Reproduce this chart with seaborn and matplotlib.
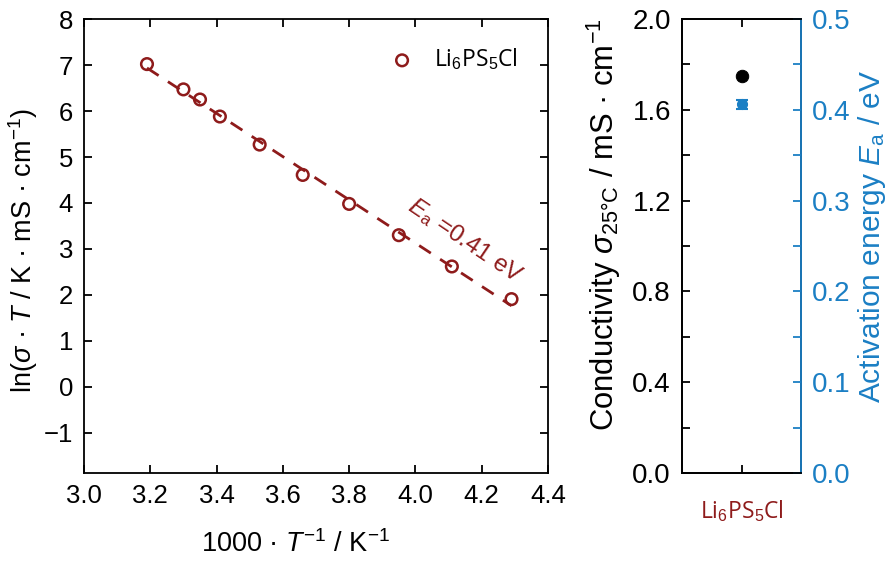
import numpy as np
import pandas as pd
import seaborn as sns
import matplotlib.pyplot as plt
from matplotlib.ticker import MultipleLocator

# Arrhenius data (1000/T vs ln(sigma*T))
inv_temp = [3.19, 3.30, 3.35, 3.41, 3.53, 3.66, 3.80, 3.95, 4.11, 4.29]
ln_sigma_t = [7.02, 6.47, 6.25, 5.88, 5.27, 4.61, 3.98, 3.30, 2.62, 1.91]

# room-temperature summary
samples = ['Li$_6$PS$_5$Cl']
conductivity = [1.75]
act_energy = [0.406]
act_energy_err = [0.005]

red = '#8E1B1B'
blue = '#1B7FC4'

sns.set_theme(style='ticks')
plt.rcParams['font.family'] = ['Liberation Sans', 'DejaVu Sans']
plt.rcParams['mathtext.fontset'] = 'custom'
plt.rcParams['mathtext.rm'] = 'Liberation Sans'
plt.rcParams['mathtext.it'] = 'Liberation Sans:italic'
plt.rcParams['mathtext.bf'] = 'Liberation Sans:bold'
plt.rcParams['xtick.direction'] = 'in'
plt.rcParams['ytick.direction'] = 'in'
plt.rcParams['axes.linewidth'] = 1.3
for key in ['text.color', 'axes.labelcolor', 'axes.edgecolor', 'xtick.color', 'ytick.color']:
    plt.rcParams[key] = 'black'

fig = plt.figure(figsize=(8.9, 5.61), dpi=100)

# ---- left: Arrhenius plot ----
ax = fig.add_axes([0.0944, 0.1569, 0.5213, 0.8092])
df = pd.DataFrame({'x': inv_temp, 'y': ln_sigma_t})
sns.regplot(data=df, x='x', y='y', ax=ax, scatter=False, ci=None,
            line_kws=dict(color=red, lw=2, ls=(0, (5, 4))))
sns.scatterplot(data=df, x='x', y='y', ax=ax, marker='o', s=70,
                facecolors='none', edgecolor=red, linewidth=1.8,
                label=samples[0], zorder=3)

ax.set_xlim(3.0, 4.4)
ax.set_ylim(-1.87, 8)
ax.set_xticks(np.arange(3.0, 4.41, 0.2))
ax.set_yticks(np.arange(-1, 8.1, 1))
ax.tick_params(top=True, right=True, length=6, width=1.3, labelsize=18.5, pad=8)
ax.set_xlabel('1000 · $T^{-1}$ / K$^{-1}$', fontsize=19.5)
ax.set_ylabel('ln($\\mathit{\\sigma}$ · $T$ / K · mS · cm$^{-1}$)', fontsize=19.5)
ax.xaxis.set_label_coords(0.455, -0.125)
ax.yaxis.set_label_coords(-0.095, 0.49)
ax.text(4.15, 3.17, '$E_{\\mathrm{a}}$ =0.41 eV', color=red, fontsize=17.5,
        rotation=-34, ha='center', va='center', rotation_mode='anchor')
ax.legend(loc='upper right', frameon=False, bbox_to_anchor=(0.98, 0.985),
          prop=dict(family='Open Sans', size=16.5), handletextpad=0.4)

# ---- right: conductivity and activation energy ----
ax_r = fig.add_axes([0.7663, 0.1569, 0.1337, 0.8092])
sns.scatterplot(x=samples, y=conductivity, ax=ax_r, color='black', s=80,
                edgecolor='black', zorder=3)
ax_e = ax_r.twinx()
ax_e.errorbar(samples, act_energy, yerr=act_energy_err, fmt='o', color=blue,
              ms=7, capsize=4, elinewidth=1.5, capthick=1.5)

ax_r.set_xlim(-1, 1)
ax_r.set_ylim(0, 2.0)
ax_r.set_yticks(np.arange(0, 2.01, 0.4))
ax_r.yaxis.set_minor_locator(MultipleLocator(0.2))
ax_r.tick_params(axis='y', which='both', left=True, right=False, length=6,
                 width=1.3, labelsize=20, pad=8)
ax_r.tick_params(axis='x', top=True, bottom=True, length=6, width=1.3,
                 labelsize=16.5, labelcolor=red, pad=18)
for lab in ax_r.get_xticklabels():
    lab.set_family('Open Sans')
ax_r.set_ylabel('Conductivity $\\mathit{\\sigma}_{\\mathrm{25°C}}$ / mS · cm$^{-1}$',
                fontsize=22.3)
ax_r.yaxis.set_label_coords(-0.50, 0.546)

ax_e.set_ylim(0, 0.5)
ax_e.set_yticks(np.arange(0, 0.51, 0.1))
ax_e.yaxis.set_minor_locator(MultipleLocator(0.05))
ax_e.tick_params(axis='y', which='both', left=False, right=True, length=6,
                 width=1.3, labelsize=20, pad=8, color=blue, labelcolor=blue)
ax_e.spines['right'].set_color(blue)
ax_e.set_ylabel('Activation energy $E_{\\mathrm{a}}$ / eV', fontsize=21.5, color=blue)
ax_e.yaxis.set_label_coords(1.46, 0.52)
ax_r.set_xlabel('')

fig.savefig('out.png', dpi=100)
